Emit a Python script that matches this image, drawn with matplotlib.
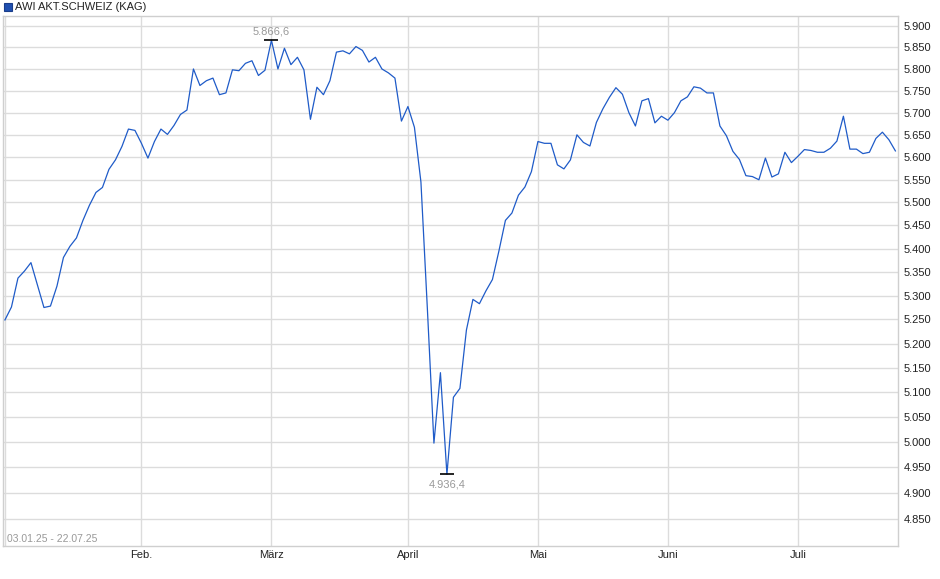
import numpy as np
import pandas as pd
import matplotlib
matplotlib.use("Agg")
import matplotlib.pyplot as plt
from matplotlib.ticker import FixedLocator, FuncFormatter, NullLocator

plt.rcParams['font.family'] = ['Liberation Sans', 'DejaVu Sans']

# trading days (SIX calendar) 03.01.25 - 22.07.25
holidays = ['2025-04-18', '2025-04-21', '2025-05-01', '2025-05-29', '2025-06-09']
dates = pd.bdate_range('2025-01-03', '2025-07-22')
dates = dates[~dates.isin(pd.to_datetime(holidays))]

values = [
    5249, 5276, 5337, 5352, 5370, 5322, 5275, 5278, 5320, 5381,
    5405, 5423, 5461, 5494, 5522, 5533, 5573, 5594, 5624, 5663,
    5660, 5631, 5598, 5635, 5663, 5651, 5671, 5696, 5706, 5800,
    5762, 5773, 5779, 5741, 5745, 5798, 5796, 5813, 5819, 5785,
    5797, 5866.6, 5800, 5848, 5810, 5827, 5798, 5685, 5758, 5741,
    5773, 5839, 5842, 5835, 5852, 5843, 5816, 5827, 5800, 5791,
    5779, 5681, 5714, 5667, 5545, 5270, 4998, 5140, 4936.4, 5090,
    5108, 5228, 5292, 5283, 5310, 5334, 5395, 5461, 5477, 5516,
    5534, 5568, 5635, 5631, 5631, 5583, 5574, 5594, 5650, 5633,
    5625, 5678, 5709, 5735, 5757, 5742, 5700, 5670, 5727, 5732,
    5677, 5692, 5683, 5700, 5727, 5736, 5759, 5756, 5745, 5745,
    5670, 5648, 5613, 5595, 5559, 5557, 5550, 5598, 5556, 5563,
    5611, 5588, 5602, 5617, 5615, 5611, 5611, 5620, 5636, 5692,
    5618, 5618, 5608, 5611, 5642, 5656, 5639, 5614,
]
month_names = ['Feb.', 'März', 'April', 'Mai', 'Juni', 'Juli']
y_ticks = list(range(4850, 5901, 50))
series_name = 'AWI AKT.SCHWEIZ (KAG)'
range_text = '03.01.25 - 22.07.25'

y = np.array(values)
x = np.arange(len(y))
month_pos = [int(np.argmax(dates.month == m)) for m in range(2, 8)]

def de_num(v, dec=0):
    s = f"{v:,.{dec}f}"
    return s.replace(',', 'X').replace('.', ',').replace('X', '.')

fig = plt.figure(figsize=(9.4, 5.79), dpi=100)
ax = fig.add_axes([3 / 940, (579 - 546) / 579, 895 / 940, 530 / 579])

ax.set_yscale('log')
ax.set_ylim(4797.6, 5923.5)
ax.set_xlim(-0.3, 137.4)

ax.plot(x, y, color='#1f5bc8', lw=0.9, zorder=3)

# grid
for v in y_ticks:
    ax.axhline(v, color='#dcdcdc', lw=1.0, zorder=1)
for p in month_pos:
    ax.axvline(p, color='#dcdcdc', lw=1.0, zorder=1)
ax.axvline(0, color='#dcdcdc', lw=1.0, zorder=1)

ax.yaxis.tick_right()
ax.yaxis.set_major_locator(FixedLocator(y_ticks))
ax.yaxis.set_minor_locator(NullLocator())
ax.yaxis.set_major_formatter(FuncFormatter(lambda v, p: de_num(v)))
ax.tick_params(axis='y', length=0, pad=4, labelsize=8, labelcolor='#222222')

ax.set_xticks(month_pos)
ax.set_xticklabels(month_names)
ax.tick_params(axis='x', length=0, pad=3, labelsize=8, labelcolor='#222222')

for s in ax.spines.values():
    s.set_color('#cfcfcf')
    s.set_linewidth(1.0)

# extremes
imax = int(np.argmax(y))
imin = int(np.argmin(y))
ax.plot([imax, imin], [y[imax], y[imin]], ls='none', marker='_', ms=10,
        mew=1.2, color='black', zorder=4)
ax.annotate(de_num(y[imax], 1), (imax, y[imax]), xytext=(0, 3),
            textcoords='offset points', ha='center', va='bottom',
            fontsize=8, color='#999999')
ax.annotate(de_num(y[imin], 1), (imin, y[imin]), xytext=(0, -4),
            textcoords='offset points', ha='center', va='top',
            fontsize=8, color='#999999')

ax.text(0.004, 0.004, range_text, transform=ax.transAxes, ha='left',
        va='bottom', fontsize=7.5, color='#999999')

# legend
fig.patches.append(plt.Rectangle((4 / 940, 1 - 11 / 579), 8 / 940, 8 / 579,
                                 transform=fig.transFigure, facecolor='#1f4fb0',
                                 edgecolor='#1a3d8a', lw=0.8))
fig.text(15 / 940, 1 - 6.5 / 579, series_name, ha='left', va='center',
         fontsize=8, color='#222222')

fig.savefig('out.png', dpi=100)
